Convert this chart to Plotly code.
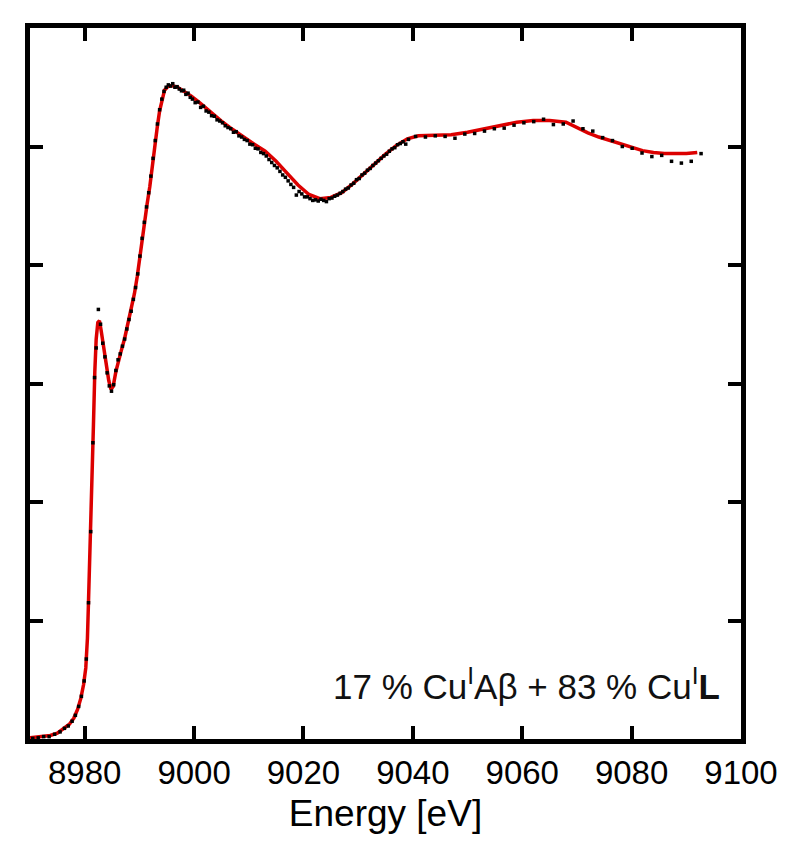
import plotly.graph_objects as go

# Fit (red line): energy [eV] and normalised absorption
fit_energy = [8970.0, 8972.0, 8973.7, 8975.0, 8976.1, 8977.2, 8978.0, 8978.7, 8979.3, 8979.8,
              8980.2, 8980.5, 8980.7, 8981.0, 8981.3, 8981.6, 8981.85, 8982.1, 8982.4, 8982.7,
              8983.0, 8983.4, 8983.9, 8984.4, 8984.8, 8985.2, 8985.7, 8986.2, 8986.7, 8987.3,
              8987.9, 8988.5, 8989.1, 8989.6, 8990.0, 8990.5, 8990.9, 8991.4, 8991.9, 8992.4,
              8992.8, 8993.3, 8993.7, 8994.2, 8994.6, 8995.2, 8996.0, 8997.0, 8998.0, 8999.5,
              9001.0, 9003.0, 9005.0, 9007.0, 9009.0, 9011.0, 9013.0, 9015.0, 9017.0, 9019.0,
              9021.0, 9023.0, 9025.0, 9027.0, 9029.0, 9031.0, 9033.0, 9035.0, 9037.0, 9039.0,
              9041.0, 9044.0, 9047.0, 9050.0, 9053.0, 9056.0, 9059.0, 9062.0, 9065.0, 9068.0,
              9070.0, 9072.0, 9074.0, 9076.0, 9078.0, 9080.0, 9082.0, 9084.0, 9086.0, 9088.0,
              9090.0, 9092.0]
fit_mu = [0.002, 0.004, 0.006, 0.010, 0.017, 0.025, 0.035, 0.050, 0.069, 0.092,
          0.120, 0.170, 0.233, 0.320, 0.420, 0.530, 0.620, 0.675, 0.703, 0.706,
          0.690, 0.665, 0.636, 0.605, 0.590, 0.595, 0.620, 0.640, 0.656, 0.676,
          0.700, 0.724, 0.752, 0.780, 0.808, 0.842, 0.874, 0.902, 0.932, 0.970,
          1.004, 1.035, 1.060, 1.082, 1.095, 1.101, 1.103, 1.100, 1.094, 1.085,
          1.074, 1.058, 1.043, 1.029, 1.016, 1.004, 0.992, 0.975, 0.955, 0.935,
          0.919, 0.912, 0.914, 0.922, 0.937, 0.954, 0.971, 0.987, 1.002, 1.013,
          1.018, 1.019, 1.020, 1.024, 1.030, 1.036, 1.041, 1.044, 1.044, 1.041,
          1.032, 1.023, 1.016, 1.010, 1.004, 0.998, 0.993, 0.990, 0.988, 0.988,
          0.988, 0.990]

# Experimental data (black dots)
exp_energy = [8970.5, 8971.5, 8972.5, 8973.5, 8974.5, 8975.5, 8976.3, 8977.0, 8977.7, 8978.3,
              8978.9, 8979.4, 8979.9, 8980.3, 8980.7, 8981.1, 8981.5, 8981.8, 8982.1, 8982.5,
              8982.9, 8983.3, 8983.7, 8984.1, 8984.5, 8984.9, 8985.3, 8985.7, 8986.1, 8986.5,
              8986.9, 8987.3, 8987.7, 8988.1, 8988.5, 8988.9, 8989.3, 8989.7, 8990.1, 8990.5,
              8990.9, 8991.3, 8991.7, 8992.1, 8992.5, 8992.9, 8993.3, 8993.7, 8994.1, 8994.5,
              8994.9, 8995.3, 8995.7, 8996.1, 8996.5, 8996.9, 8997.3, 8997.7, 8998.1, 8998.5,
              8998.9, 8999.3, 8999.7, 9000.2, 9000.7, 9001.2, 9001.7, 9002.2, 9002.7, 9003.2,
              9003.7, 9004.2, 9004.7, 9005.2, 9005.7, 9006.2, 9006.7, 9007.2, 9007.7, 9008.2,
              9008.7, 9009.2, 9009.7, 9010.2, 9010.7, 9011.2, 9011.7, 9012.2, 9012.7, 9013.2,
              9013.7, 9014.2, 9014.7, 9015.2, 9015.7, 9016.2, 9016.7, 9017.2, 9017.7, 9018.2,
              9018.7, 9019.2, 9019.7, 9020.2, 9020.7, 9021.2, 9021.7, 9022.2, 9022.7, 9023.2,
              9023.7, 9024.2, 9024.7, 9025.2, 9025.7, 9026.2, 9026.7, 9027.2, 9027.7, 9028.2,
              9028.7, 9029.2, 9029.7, 9030.2, 9030.7, 9031.2, 9031.7, 9032.2, 9032.7, 9033.2,
              9033.7, 9034.2, 9034.7, 9035.2, 9035.7, 9036.2, 9036.7, 9037.2, 9037.7, 9038.2,
              9038.7, 9039.2, 9040.5, 9042.3, 9044.1, 9045.9, 9047.7, 9049.5, 9051.3, 9053.1,
              9054.9, 9056.7, 9058.5, 9060.3, 9062.1, 9063.9, 9065.7, 9067.5, 9069.3, 9071.1,
              9072.9, 9074.7, 9076.5, 9078.3, 9080.1, 9081.9, 9083.7, 9085.5, 9087.3, 9089.1,
              9090.9, 9092.7]
exp_mu = [0.001, 0.002, 0.004, 0.004, 0.008, 0.012, 0.018, 0.022, 0.030, 0.040,
          0.055, 0.072, 0.098, 0.135, 0.230, 0.350, 0.500, 0.610, 0.660, 0.725,
          0.700, 0.668, 0.645, 0.618, 0.596, 0.587, 0.598, 0.622, 0.640, 0.650,
          0.663, 0.675, 0.692, 0.708, 0.722, 0.742, 0.762, 0.785, 0.815, 0.845,
          0.872, 0.898, 0.922, 0.950, 0.980, 1.010, 1.038, 1.062, 1.080, 1.093,
          1.100, 1.104, 1.102, 1.106, 1.100, 1.101, 1.097, 1.094, 1.095, 1.088,
          1.090, 1.083, 1.080, 1.074, 1.075, 1.066, 1.068, 1.060, 1.058, 1.052,
          1.051, 1.045, 1.043, 1.040, 1.035, 1.032, 1.030, 1.024, 1.025, 1.018,
          1.016, 1.012, 1.010, 1.004, 1.003, 0.997, 0.996, 0.990, 0.988, 0.984,
          0.978, 0.973, 0.968, 0.964, 0.958, 0.952, 0.948, 0.942, 0.936, 0.931,
          0.918, 0.924, 0.920, 0.915, 0.915, 0.912, 0.909, 0.910, 0.908, 0.911,
          0.909, 0.907, 0.912, 0.913, 0.916, 0.918, 0.921, 0.924, 0.928, 0.930,
          0.935, 0.938, 0.944, 0.946, 0.952, 0.955, 0.960, 0.963, 0.968, 0.972,
          0.976, 0.980, 0.984, 0.987, 0.992, 0.996, 0.998, 1.003, 1.005, 1.008,
          1.004, 1.012, 1.017, 1.016, 1.018, 1.017, 1.014, 1.021, 1.022, 1.026,
          1.030, 1.031, 1.036, 1.040, 1.042, 1.046, 1.037, 1.038, 1.043, 1.030,
          1.026, 1.015, 1.010, 1.000, 0.997, 0.989, 0.983, 0.985, 0.975, 0.972,
          0.975, 0.988]

x_ticks = [8980, 9000, 9020, 9040, 9060, 9080, 9100]
y_ticks = [0.0, 0.2, 0.4, 0.6, 0.8, 1.0, 1.2]
x_title = "Energy [eV]"
label = "17 % Cu<sup>I</sup>Aβ + 83 % Cu<sup>I</sup><b>L</b>"

FONT = "Arial, Liberation Sans, sans-serif"

fig = go.Figure()
fig.add_trace(go.Scatter(x=fit_energy, y=fit_mu, mode="lines",
                         line=dict(color="#dc0000", width=3.5), showlegend=False))
fig.add_trace(go.Scatter(x=exp_energy, y=exp_mu, mode="markers",
                         marker=dict(color="black", size=3.5, symbol="square"),
                         showlegend=False))

fig.add_annotation(x=9096.5, y=0.093, xref="x", yref="y", text=label, showarrow=False,
                   xanchor="right", yanchor="middle",
                   font=dict(family=FONT, size=35, color="#111111"))

axis_common = dict(showline=True, linewidth=5, linecolor="black", mirror="ticks",
                   ticks="inside", ticklen=13, tickwidth=4, tickcolor="black",
                   showgrid=False, zeroline=False)

fig.update_xaxes(range=[8970, 9100], tickvals=x_ticks, ticktext=[str(v) for v in x_ticks],
                 tickfont=dict(family=FONT, size=33, color="black"),
                 title=dict(text=x_title, font=dict(family=FONT, size=37, color="black"),
                            standoff=12),
                 **axis_common)
fig.update_yaxes(range=[0, 1.2], tickvals=y_ticks, showticklabels=False, **axis_common)

fig.update_layout(width=800, height=863, margin=dict(l=22, r=67, t=20, b=132),
                  plot_bgcolor="white", paper_bgcolor="white")

fig.write_html("out.html")
